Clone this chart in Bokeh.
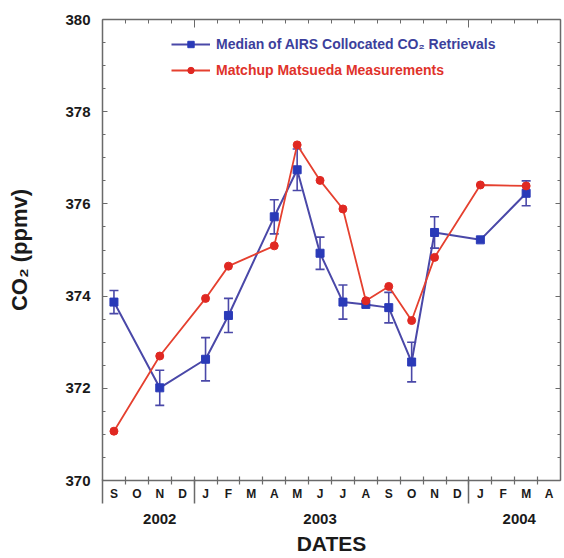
from bokeh.plotting import figure
from bokeh.models import (ColumnDataSource, FixedTicker, LinearAxis, Range1d,
                          Whisker, TeeHead, Legend, LegendItem)
from bokeh.embed import file_html
from bokeh.resources import INLINE

# ---- data -------------------------------------------------------------
month_labels = ["S", "O", "N", "D", "J", "F", "M", "A", "M", "J",
                "J", "A", "S", "O", "N", "D", "J", "F", "M", "A"]
year_labels = ["2002", "2003", "2004"]
year_label_month = [2, 9, 17.7]          # centre of each year label (month index)
year_start_month = [-0.5, 3.5, 15.5]      # year boundaries (month index)

airs_month = [0, 2, 4, 5, 7, 8, 9, 10, 11, 12, 13, 14, 16, 18]
airs_co2 = [373.87, 372.01, 372.63, 373.58, 375.72, 376.74, 374.93,
            373.87, 373.82, 373.75, 372.57, 375.38, 375.22, 376.23]
airs_err = [0.25, 0.38, 0.47, 0.37, 0.37, 0.45, 0.35,
            0.37, 0.0, 0.33, 0.43, 0.34, 0.0, 0.27]

matsueda_month = [0, 2, 4, 5, 7, 8, 9, 10, 11, 12, 13, 14, 16, 18]
matsueda_co2 = [371.07, 372.70, 373.95, 374.65, 375.09, 377.28, 376.51,
                375.89, 373.90, 374.21, 373.47, 374.84, 376.41, 376.39]

y_major = [370, 372, 374, 376, 378, 380]
y_minor = [370 + 0.5 * k for k in range(21)]

# ---- styles -----------------------------------------------------------
FONT = "Liberation Sans"
BLUE_LINE = "#4a48a8"
BLUE_MARK = "#2a3ab8"
BLUE_TEXT = "#3c3f9c"
RED_LINE = "#e5402f"
RED_MARK = "#e02822"
RED_TEXT = "#e0322a"
AXIS = "#6a6a6a"

W, H = 562, 557
BL, BR, BT, BB = 102, 2, 19, 76
FRAME_H = H - BT - BB

p = figure(width=W, height=H,
           x_range=Range1d(-0.5, 19.5), y_range=Range1d(370, 380),
           x_axis_type=None, y_axis_type=None,
           output_backend="svg", toolbar_location=None,
           min_border_left=BL, min_border_right=BR,
           min_border_top=BT, min_border_bottom=BB)
p.outline_line_color = None
p.background_fill_color = "white"
p.border_fill_color = "white"

# ---- axes -------------------------------------------------------------
# left
ya = LinearAxis(ticker=FixedTicker(ticks=y_major, minor_ticks=y_minor))
ya.major_tick_in = 5
ya.major_tick_out = 0
ya.minor_tick_in = 3
ya.minor_tick_out = 0
ya.major_label_standoff = 12
ya.major_label_text_font = FONT
ya.major_label_text_font_style = "bold"
ya.major_label_text_font_size = "15px"
ya.major_label_text_color = "#1a1a1a"
ya.axis_label = "CO₂ (ppmv)"
ya.axis_label_text_font = FONT
ya.axis_label_text_font_style = "bold"
ya.axis_label_text_font_size = "22px"
ya.axis_label_text_color = "#1a1a1a"
ya.axis_label_standoff = 30
ya.axis_line_color = AXIS
ya.axis_line_width = 1.5
ya.major_tick_line_color = AXIS
ya.minor_tick_line_color = AXIS
p.add_layout(ya, "left")

# right
yr = LinearAxis(ticker=FixedTicker(ticks=y_major, minor_ticks=y_minor))
yr.major_tick_in = 5
yr.major_tick_out = 0
yr.minor_tick_in = 3
yr.minor_tick_out = 0
yr.major_label_text_font_size = "0px"
yr.major_label_standoff = 0
yr.major_label_overrides = {v: "" for v in y_major}
yr.axis_line_color = AXIS
yr.axis_line_width = 1.5
yr.major_tick_line_color = AXIS
yr.minor_tick_line_color = AXIS
p.add_layout(yr, "right")

# bottom: month letters
month_idx = list(range(len(month_labels)))
xa = LinearAxis(ticker=FixedTicker(ticks=month_idx,
                                   minor_ticks=[i + 0.5 for i in month_idx[:-1]]))
xa.major_label_overrides = {i: m for i, m in zip(month_idx, month_labels)}
xa.major_tick_in = 0
xa.major_tick_out = 0
xa.minor_tick_in = 4
xa.minor_tick_out = 4
xa.major_label_standoff = 2
xa.major_label_text_font = FONT
xa.major_label_text_font_style = "bold"
xa.major_label_text_font_size = "12px"
xa.major_label_text_color = "#1a1a1a"
xa.axis_line_color = AXIS
xa.axis_line_width = 1.5
xa.minor_tick_line_color = AXIS
xa.minor_tick_line_width = 1.2
p.add_layout(xa, "below")

# bottom: years + DATES
xy = LinearAxis(ticker=FixedTicker(ticks=year_label_month,
                                   minor_ticks=year_start_month))
xy.major_label_overrides = {t: y for t, y in zip(year_label_month, year_labels)}
xy.major_tick_in = 0
xy.major_tick_out = 0
xy.minor_tick_in = 24
xy.minor_tick_out = 0
xy.minor_tick_line_color = AXIS
xy.minor_tick_line_width = 1.5
xy.axis_line_color = None
xy.major_label_standoff = 10
xy.major_label_text_font = FONT
xy.major_label_text_font_style = "bold"
xy.major_label_text_font_size = "15px"
xy.major_label_text_color = "#1a1a1a"
xy.axis_label = "DATES"
xy.axis_label_text_font = FONT
xy.axis_label_text_font_style = "bold"
xy.axis_label_text_font_size = "21px"
xy.axis_label_text_color = "#1a1a1a"
xy.axis_label_standoff = 5
p.add_layout(xy, "below")

# top
xt = LinearAxis(ticker=FixedTicker(ticks=year_start_month[1:],
                                   minor_ticks=[i + 0.5 for i in month_idx[:-1]]))
xt.major_tick_in = 8
xt.major_tick_out = 0
xt.minor_tick_in = 4
xt.minor_tick_out = 0
xt.major_label_text_font_size = "0px"
xt.major_label_standoff = 0
xt.major_label_overrides = {t: "" for t in year_start_month[1:]}
xt.axis_line_color = AXIS
xt.axis_line_width = 1.5
xt.major_tick_line_color = AXIS
xt.minor_tick_line_color = AXIS
p.add_layout(xt, "above")

p.xgrid.visible = False
p.ygrid.visible = False

# ---- data renderers ---------------------------------------------------
airs_src = ColumnDataSource(dict(x=airs_month, y=airs_co2))
err_x = [m for m, e in zip(airs_month, airs_err) if e > 0]
err_lo = [v - e for v, e in zip(airs_co2, airs_err) if e > 0]
err_hi = [v + e for v, e in zip(airs_co2, airs_err) if e > 0]
err_src = ColumnDataSource(dict(x=err_x, lower=err_lo, upper=err_hi))

wh = Whisker(source=err_src, base="x", lower="lower", upper="upper",
             dimension="height", line_color=BLUE_LINE, line_width=1.6,
             upper_head=TeeHead(size=9, line_color=BLUE_LINE, line_width=1.6),
             lower_head=TeeHead(size=9, line_color=BLUE_LINE, line_width=1.6))
p.add_layout(wh)

b_line = p.line("x", "y", source=airs_src, line_color=BLUE_LINE, line_width=2)
b_mark = p.scatter("x", "y", source=airs_src, marker="square", size=8,
                   fill_color=BLUE_MARK, line_color=BLUE_MARK)

m_src = ColumnDataSource(dict(x=matsueda_month, y=matsueda_co2))
r_line = p.line("x", "y", source=m_src, line_color=RED_LINE, line_width=1.8)
r_mark = p.scatter("x", "y", source=m_src, marker="circle", size=8,
                   fill_color=RED_MARK, line_color=RED_MARK)

# ---- legends ----------------------------------------------------------
def make_legend(label, rends, color, loc):
    lg = Legend(items=[LegendItem(label=label, renderers=rends)],
                location=loc, padding=0, margin=0, spacing=0,
                glyph_width=39, glyph_height=16, label_height=16,
                label_standoff=6,
                label_text_font=FONT, label_text_font_style="bold",
                label_text_font_size="14px", label_text_color=color,
                border_line_color=None, background_fill_alpha=0)
    p.add_layout(lg, "center")

make_legend("Median of AIRS Collocated CO₂ Retrievals", [b_line, b_mark],
            BLUE_TEXT, (69, FRAME_H - 34))
make_legend("Matchup Matsueda Measurements", [r_line, r_mark],
            RED_TEXT, (69, FRAME_H - 60))

open("out.html", "w").write(file_html(p, INLINE))
